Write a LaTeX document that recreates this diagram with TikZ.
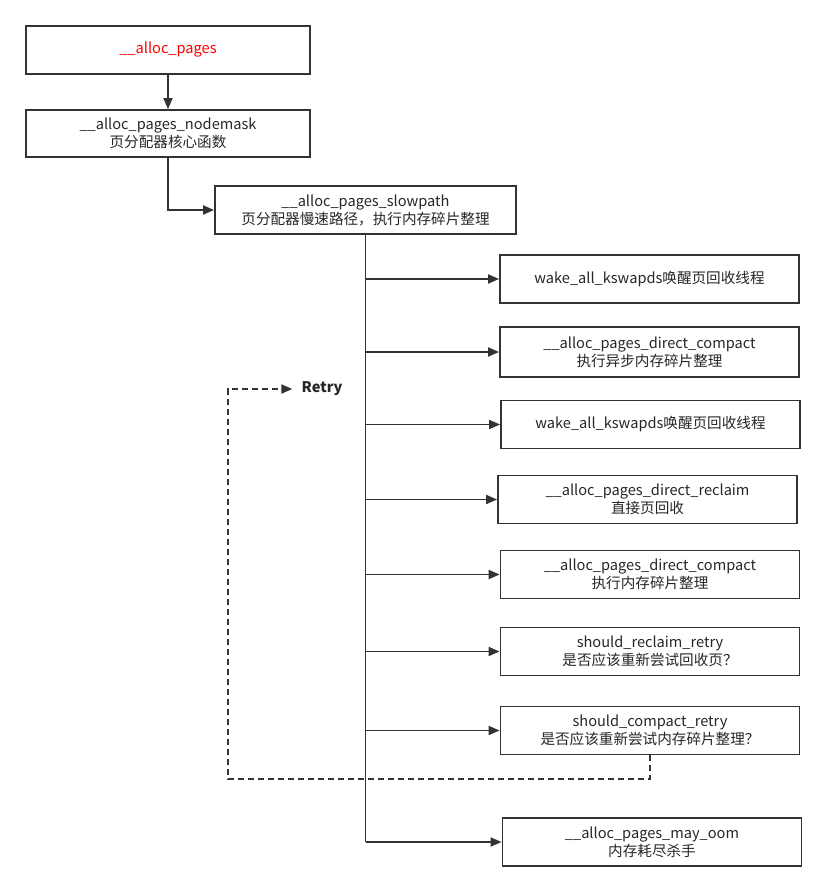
\documentclass[tikz,border=0pt]{standalone}
\usepackage{fontspec}
\usepackage{tikz}
\usepackage{xcolor}
\usetikzlibrary{arrows.meta, positioning}
\setmainfont{Noto Sans CJK SC}
\definecolor{Line_Gray}{HTML}{333333}
\definecolor{Text_Gray}{HTML}{262626}
\definecolor{Call_Red}{HTML}{FF0000}

\begin{document}
\begin{tikzpicture}[x=1pt, y=-1pt,
    box/.style={draw=Line_Gray, line width=1.8pt, rectangle, minimum width=299pt,
        minimum height=48pt, align=center, inner sep=2pt, text=Text_Gray,
        font=\fontsize{14.6}{18}\selectfont},
    arr/.style={draw=Line_Gray, line width=1.8pt, -{Triangle[length=11pt, width=9pt]}},
    retryline/.style={draw=Line_Gray, line width=1.8pt, dash pattern=on 6pt off 4pt,
        -{Triangle[length=11pt, width=9pt]}}]
    \useasboundingbox (0,0) rectangle (836,887);

    % Entry of the allocator
    \node[box, minimum width=284pt, text=Call_Red] (alloc) at (168,50) {\_\_alloc\_pages};
    \node[box, minimum width=284pt, minimum height=47pt] (nodemask) at (168,133.5)
        {\_\_alloc\_pages\_nodemask\\页分配器核心函数};
    \node[box, minimum width=301pt] (slow) at (365.5,210)
        {\_\_alloc\_pages\_slowpath\\页分配器慢速路径，执行内存碎片整理};

    \draw[arr] (alloc) -- (nodemask);
    \draw[arr] (nodemask.south) |- (slow.west);

    % Steps of the slow path
    \node[box] (b1) at (649.5,279) {wake\_all\_kswapds唤醒页回收线程};
    \node[box, minimum height=50pt] (b2) at (649.5,352)
        {\_\_alloc\_pages\_direct\_compact\\执行异步内存碎片整理};
    \node[box] (b3) at (650.5,424.5) {wake\_all\_kswapds唤醒页回收线程};
    \node[box] (b4) at (647.5,499.5) {\_\_alloc\_pages\_direct\_reclaim\\直接页回收};
    \node[box] (b5) at (650,574.5) {\_\_alloc\_pages\_direct\_compact\\执行内存碎片整理};
    \node[box] (b6) at (650,651.5) {should\_reclaim\_retry\\是否应该重新尝试回收页？};
    \node[box] (b7) at (650,730.5)
        {should\_compact\_retry\\是否应该重新尝试内存碎片整理？};
    \node[box] (b8) at (652,842) {\_\_alloc\_pages\_may\_oom\\内存耗尽杀手};

    \draw[draw=Line_Gray, line width=1.8pt] (slow.south) -- (slow.south |- b8.west);
    \foreach \i in {1,...,8}
        \draw[arr] (slow.south |- b\i.west) -- (b\i.west);

    % Retry loop
    \node[text=Text_Gray, font=\fontsize{14.6}{18}\selectfont\bfseries, inner xsep=9pt]
        (retry) at (322,389) {Retry};
    \coordinate (loopcorner) at (228,779);
    \draw[retryline] (b7.south) |- (loopcorner) |- (retry.west);
\end{tikzpicture}
\end{document}
